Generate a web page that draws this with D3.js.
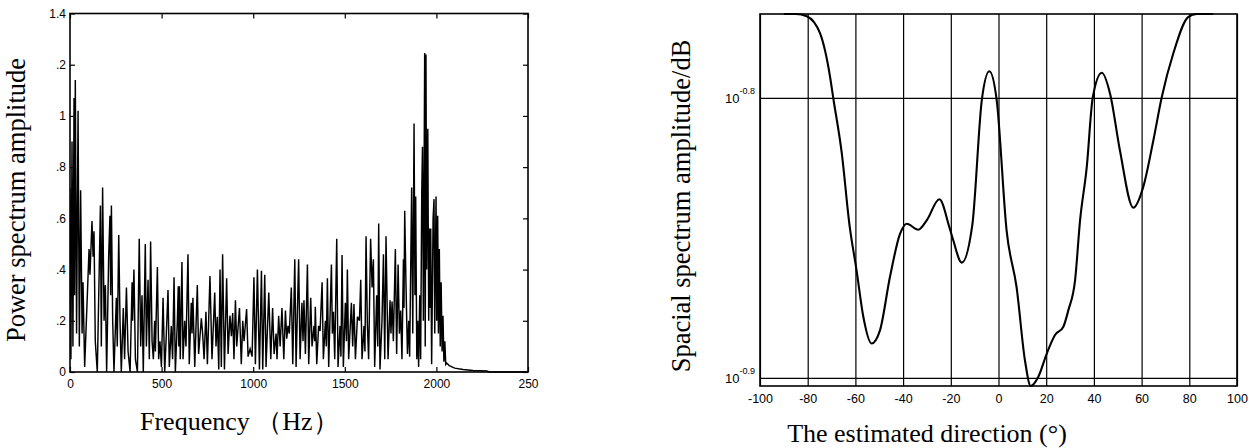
<!DOCTYPE html>
<html>
<head>
<meta charset="utf-8">
<script src="https://cdn.jsdelivr.net/npm/d3@7"></script>
<style>
  body { margin: 0; background: #fff; }
  svg { display: block; }
  .tick text { font-family: "Liberation Sans", Arial, sans-serif; fill: #000; }
  .title { font-family: "Liberation Serif", "Times New Roman", serif; fill: #000; }
</style>
</head>
<body>
<svg width="1249" height="448"></svg>
<script>
// ---- left panel: power spectrum (frequency in Hz, amplitude) ----
var freqHz = [
  0, 5, 11, 16, 22, 25, 29, 36, 44, 51, 58, 66, 71, 80, 104, 109, 120, 126, 131, 138, 149,
  166, 171, 178, 186, 193, 200, 211, 218, 222, 226, 233, 240, 253, 258, 266, 273, 280,
  291, 298, 308, 317, 328, 339, 342, 349, 357, 368, 378, 386, 393, 400, 411, 417, 426,
  433, 440, 448, 455, 462, 466, 477, 484, 491, 499, 508, 517, 526, 535, 542, 553, 560,
  568, 575, 586, 591, 594, 597, 602, 611,
  617, 626, 633, 644, 651, 662, 666, 671, 681, 695, 702, 717, 724, 732, 742, 750, 764,
  775, 790, 797, 804, 812, 819, 826, 833, 843, 855, 863, 873, 881, 888, 895, 903, 910,
  925, 935, 943, 950, 964, 972, 983, 994, 1004, 1012, 1023, 1034, 1045, 1052, 1063, 1070,
  1085, 1096, 1106, 1114, 1125, 1130, 1139, 1147, 1157, 1167, 1176, 1183, 1190, 1197,
  1208, 1216, 1227, 1234,
  1248, 1256, 1266, 1272, 1277, 1285, 1296, 1303, 1314, 1321, 1332, 1336, 1339, 1347,
  1357, 1365, 1376, 1383, 1394, 1399, 1405, 1412, 1427, 1432, 1438, 1445, 1456, 1463,
  1474, 1479, 1485, 1492, 1503, 1509, 1514, 1521, 1536, 1543, 1550, 1558, 1569, 1580,
  1587, 1594, 1605, 1610, 1616, 1623, 1630, 1641, 1649, 1656, 1663, 1674, 1680, 1685,
  1692, 1703, 1711, 1718, 1725, 1736, 1747, 1752, 1758, 1765, 1776, 1783, 1791, 1798,
  1805, 1812, 1820, 1823, 1827, 1834, 1842, 1849, 1854,
  1865, 1871, 1878, 1883, 1887, 1893, 1898, 1903, 1909, 1914, 1920, 1924, 1929, 1936,
  1939, 1943, 1947, 1953, 1958, 1962, 1965, 1969, 1974, 1982, 1987, 1991, 1998, 2002,
  2007, 2011, 2016, 2021, 2026, 2031, 2036, 2041, 2046, 2051, 2056, 2070, 2100, 2146,
  2200, 2275, 2290, 2500
];
var power = [
  0.72, 0.05, 0.90, 0.10, 1.07, 0.30, 1.14, 0.15, 1.02, 0.10, 0.71, 0.15, 0.35, 0.02, 0.48, 0.38, 0.59, 0.45, 0.55, 0.12, 0.0,
  0.65, 0.10, 0.72, 0.20, 0.34, 0.0, 0.45, 0.61, 0.30, 0.65, 0.20, 0.0, 0.29, 0.10, 0.535, 0.20, 0.0,
  0.25, 0.05, 0.33, 0.08, 0.0, 0.35, 0.20, 0.40, 0.05, 0.0, 0.52, 0.10, 0.30, 0.0, 0.50, 0.10, 0.36,
  0.05, 0.51, 0.12, 0.05, 0.20, 0.08, 0.41, 0.05, 0.12, 0.02, 0.29, 0.0, 0.15, 0.32, 0.02, 0.18, 0.05,
  0.37, 0.0, 0.20, 0.335, 0.10, 0.335, 0.05, 0.43,
  0.05, 0.20, 0.10, 0.46, 0.03, 0.27, 0.15, 0.29, 0.02, 0.34, 0.07, 0.21, 0.15, 0.05, 0.235, 0.03, 0.375,
  0.05, 0.31, 0.10, 0.216, 0.01, 0.40, 0.02, 0.46, 0.01, 0.366, 0.07, 0.22, 0.14, 0.23, 0.05, 0.28, 0.10,
  0.25, 0.03, 0.20, 0.12, 0.246, 0.06, 0.09, 0.06, 0.37, 0.03, 0.40, 0.01, 0.395, 0.01, 0.38, 0.02,
  0.31, 0.05, 0.25, 0.07, 0.15, 0.05, 0.22, 0.10, 0.25, 0.05, 0.24, 0.13, 0.18, 0.15,
  0.33, 0.03, 0.44, 0.02,
  0.44, 0.05, 0.27, 0.12, 0.28, 0.07, 0.42, 0.03, 0.29, 0.10, 0.18, 0.12, 0.255, 0.03,
  0.18, 0.16, 0.35, 0.05, 0.20, 0.10, 0.366, 0.02, 0.42, 0.15, 0.235, 0.05, 0.52, 0.02,
  0.18, 0.06, 0.457, 0.02, 0.27, 0.12, 0.40, 0.05, 0.27, 0.10, 0.265, 0.05, 0.216, 0.20,
  0.36, 0.05, 0.18, 0.08, 0.53, 0.19, 0.05, 0.52, 0.33, 0.44, 0.02, 0.30, 0.10, 0.58,
  0.01, 0.20, 0.46, 0.05, 0.53, 0.05, 0.28, 0.15, 0.275, 0.12, 0.48, 0.07, 0.42, 0.15,
  0.24, 0.05, 0.44, 0.25, 0.63, 0.34, 0.07, 0.20, 0.06,
  0.72, 0.15, 0.97, 0.30, 0.685, 0.05, 0.20, 0.02, 0.30, 0.05, 0.70, 0.88, 0.20, 1.246,
  0.10, 1.24, 0.40, 0.95, 0.20, 0.56, 0.25, 0.56, 0.03, 0.60, 0.675, 0.15, 0.685, 0.20,
  0.61, 0.15, 0.48, 0.10, 0.35, 0.08, 0.22, 0.04, 0.12, 0.03, 0.035, 0.025, 0.015, 0.01,
  0.006, 0.004, 0, 0
];
var freqTicks = [0, 500, 1000, 1500, 2000, 2500];
var freqTickLabels = ['0', '500', '1000', '1500', '2000', '250'];
var powerTicks = [0, 0.2, 0.4, 0.6, 0.8, 1.0, 1.2, 1.4];
var powerTickLabels = ['0', '.2', '.4', '.6', '.8', '1', '.2', '1.4'];

// ---- right panel: spatial spectrum vs estimated direction ----
var angleDeg = [
  -90, -85, -80.4, -74.8, -70.6, -69.3, -65.7, -62.5, -59.5, -56.7, -53.2, -49.7, -45.5,
  -41.3, -38.5, -33.6, -30.1, -24.8, -20.6, -19.0, -15.4, -11.0, -7.0, -3.85, -0.76,
  3.4, 7.6, 11.1, 13.5, 16.7, 20.2, 23.7, 27.2, 29.3, 32.1, 34.2, 37.0, 39.5, 43.3,
  46.8, 50.9, 56.5, 60.7, 64.9, 68.4, 73.3, 79.6, 83.1, 90
];
var spatial = [
  0.1698, 0.1698, 0.1695, 0.1671, 0.1612, 0.1585, 0.1514, 0.1428, 0.1375, 0.1324, 0.1295, 0.1309, 0.1368,
  0.1417, 0.1429, 0.1422, 0.1433, 0.1458, 0.1425, 0.1410, 0.1384, 0.1427, 0.1582, 0.1620, 0.1582,
  0.1421, 0.1356, 0.1277, 0.12505, 0.1260, 0.1284, 0.1304, 0.1313, 0.1331, 0.1364, 0.1433, 0.1497, 0.1585, 0.1618,
  0.1590, 0.1518, 0.1448, 0.1473, 0.1530, 0.1585, 0.1644, 0.1694, 0.1698, 0.1698
];
var angleTicks = [-100, -80, -60, -40, -20, 0, 20, 40, 60, 80, 100];
var spatialTickExp = [-0.9, -0.8];

var svg = d3.select('svg');

// ================= left panel =================
var L = { left: 70, right: 528, top: 13.5, bottom: 372 };
var xL = d3.scaleLinear().domain([0, 2500]).range([L.left, L.right]);
var yL = d3.scaleLinear().domain([0, 1.4]).range([L.bottom, L.top]);

svg.append('clipPath').attr('id', 'clipL')
  .append('rect').attr('x', L.left).attr('y', L.top - 1)
  .attr('width', L.right - L.left).attr('height', L.bottom - L.top + 2);

var spectrumLine = d3.line()
  .x(function(d, i) { return xL(freqHz[i]); })
  .y(function(d) { return yL(d); });

svg.append('path')
  .datum(power)
  .attr('clip-path', 'url(#clipL)')
  .attr('d', spectrumLine)
  .attr('fill', 'none')
  .attr('stroke', '#000')
  .attr('stroke-width', 1.45)
  .attr('stroke-linejoin', 'miter');

var axL = svg.append('g').attr('class', 'axL');
axL.append('g')
  .attr('transform', 'translate(0,' + L.bottom + ')')
  .call(d3.axisBottom(xL).tickValues(freqTicks).tickSizeInner(-5).tickSizeOuter(0).tickPadding(7)
    .tickFormat(function(d, i) { return freqTickLabels[i]; }));
axL.append('g')
  .attr('transform', 'translate(0,' + L.top + ')')
  .call(d3.axisTop(xL).tickValues(freqTicks).tickSizeInner(-5).tickSizeOuter(0).tickFormat(''));
axL.append('g')
  .attr('transform', 'translate(' + L.left + ',0)')
  .call(d3.axisLeft(yL).tickValues(powerTicks).tickSizeInner(-5).tickSizeOuter(0).tickPadding(4)
    .tickFormat(function(d, i) { return powerTickLabels[i]; }));
axL.append('g')
  .attr('transform', 'translate(' + L.right + ',0)')
  .call(d3.axisRight(yL).tickValues(powerTicks).tickSizeInner(-5).tickSizeOuter(0).tickFormat(''));
axL.selectAll('.domain').remove();
axL.selectAll('.tick line').attr('stroke', '#000').attr('stroke-width', 1.2);
axL.selectAll('.tick text').attr('font-size', 12);

svg.append('rect')
  .attr('x', L.left).attr('y', L.top)
  .attr('width', L.right - L.left).attr('height', L.bottom - L.top)
  .attr('fill', 'none').attr('stroke', '#000').attr('stroke-width', 1.6);

svg.append('text').attr('class', 'title')
  .attr('transform', 'translate(25,200) rotate(-90)')
  .attr('text-anchor', 'middle')
  .attr('font-size', 26.5)
  .text('Power spectrum amplitude');

svg.append('text').attr('class', 'title')
  .attr('x', 140).attr('y', 430)
  .attr('font-size', 26)
  .text('Frequency （Hz）');

// ================= right panel =================
var R = { left: 760, right: 1237, top: 14, bottom: 386 };
var xR = d3.scaleLinear().domain([-100, 100]).range([R.left, R.right]);
var yR = d3.scaleLog().domain(d3.extent(spatial)).range([R.bottom, R.top]);

var axR = svg.append('g').attr('class', 'axR');
axR.append('g')
  .attr('transform', 'translate(0,' + R.bottom + ')')
  .call(d3.axisBottom(xR).tickValues(angleTicks).tickSizeInner(-(R.bottom - R.top)).tickSizeOuter(0).tickPadding(8)
    .tickFormat(function(d) { return String(d); }));
axR.append('g')
  .attr('transform', 'translate(' + R.left + ',0)')
  .call(d3.axisLeft(yR).tickValues(spatialTickExp.map(function(e) { return Math.pow(10, e); }))
    .tickSizeInner(-(R.right - R.left)).tickSizeOuter(0).tickPadding(5).tickFormat(''));
axR.selectAll('.domain').remove();
axR.selectAll('.tick line').attr('stroke', '#000').attr('stroke-width', 1.2);
axR.selectAll('.tick text').attr('font-size', 12.5);

// exponent labels 10^-0.9, 10^-0.8
axR.selectAll('g.tick').filter(function(d) { return d < 1 && d > 0; })
  .each(function(d, i) {
    var t = d3.select(this).select('text');
    t.text(null).attr('dy', '0.35em');
    t.append('tspan').attr('font-size', 13).text('10');
    t.append('tspan').attr('font-size', 9).attr('dy', -8.6).text(String(spatialTickExp[i]));
  });

svg.append('clipPath').attr('id', 'clipR')
  .append('rect').attr('x', R.left).attr('y', R.top - 1.5)
  .attr('width', R.right - R.left).attr('height', R.bottom - R.top + 3);

var spatialLine = d3.line()
  .curve(d3.curveMonotoneX)
  .x(function(d, i) { return xR(angleDeg[i]); })
  .y(function(d) { return yR(d); });

svg.append('path')
  .datum(spatial)
  .attr('clip-path', 'url(#clipR)')
  .attr('d', spatialLine)
  .attr('fill', 'none')
  .attr('stroke', '#000')
  .attr('stroke-width', 2.1);

svg.append('rect')
  .attr('x', R.left).attr('y', R.top)
  .attr('width', R.right - R.left).attr('height', R.bottom - R.top)
  .attr('fill', 'none').attr('stroke', '#000').attr('stroke-width', 1.6);

svg.append('text').attr('class', 'title')
  .attr('transform', 'translate(690,206) rotate(-90)')
  .attr('text-anchor', 'middle')
  .attr('font-size', 26.5)
  .text('Spacial spectrum amplitude/dB');

svg.append('text').attr('class', 'title')
  .attr('x', 927).attr('y', 441.7)
  .attr('text-anchor', 'middle')
  .attr('font-size', 26)
  .text('The estimated direction (°)');
</script>
</body>
</html>
